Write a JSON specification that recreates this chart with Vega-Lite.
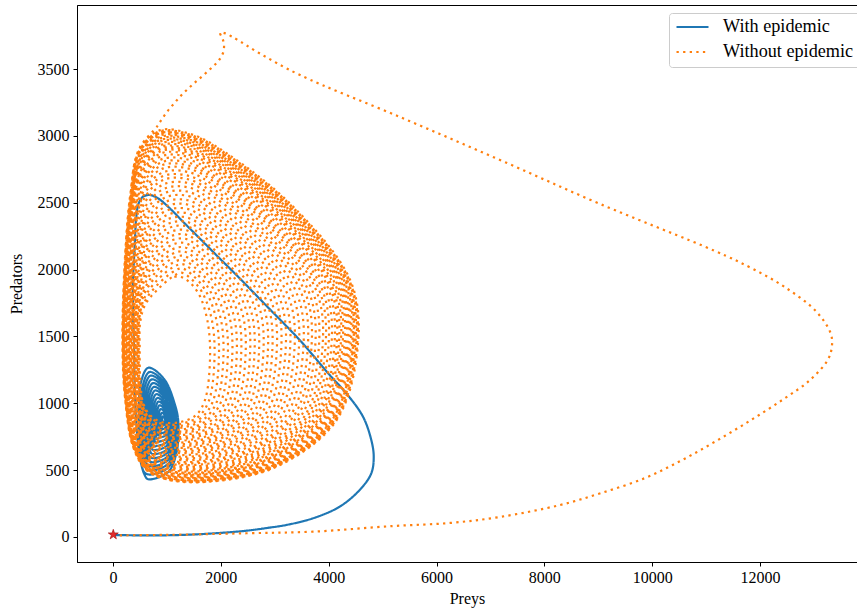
{
"$schema": "https://vega.github.io/schema/vega-lite/v6.json",
"width": 780, "height": 557,
"autosize": {"type": "none"},
"padding": {"left": 77, "top": 5, "right": 0, "bottom": 50},
"background": "white",
"config": {
 "view": {"stroke": "black", "strokeWidth": 1},
 "font": "Liberation Serif",
 "axis": {"domainColor": "black", "tickColor": "black", "labelColor": "black", "titleColor": "black", "labelFont": "Liberation Serif", "titleFont": "Liberation Serif", "labelFontSize": 16, "titleFontSize": 16, "titleFontWeight": "normal", "grid": false, "tickSize": 4, "tickWidth": 1, "domainWidth": 1},
 "axisX": {"labelPadding": 3, "titlePadding": 5},
 "axisY": {"labelPadding": 4, "titlePadding": 13},
 "legend": {"orient": "none", "legendX": 592, "legendY": 8, "padding": 6, "strokeColor": "#cccccc", "fillColor": "white", "cornerRadius": 3, "labelFont": "Liberation Serif", "labelFontSize": 18.2, "labelColor": "black", "symbolType": "stroke", "symbolSize": 1024, "symbolStrokeWidth": 2.2, "labelOffset": 13, "rowPadding": 6, "clipHeight": 16}
},
"datasets": {
"blue": [
{"s":"w","x":5,"y":15},{"s":"w","x":600,"y":12},{"s":"w","x":1237,"y":15},{"s":"w","x":1900,"y":28},{"s":"w","x":2472,"y":47},{"s":"w","x":2900,"y":70},{"s":"w","x":3214,"y":90},{"s":"w","x":3709,"y":140},{"s":"w","x":4204,"y":227},{"s":"w","x":4575,"y":352},{"s":"w","x":4790,"y":476},{"s":"w","x":4835,"y":601},{"s":"w","x":4790,"y":725},{"s":"w","x":4636,"y":900},{"s":"w","x":4326,"y":1075},{"s":"w","x":4018,"y":1212},{"s":"w","x":3462,"y":1473},{"s":"w","x":2875,"y":1717},{"s":"w","x":2287,"y":1960},{"s":"w","x":1947,"y":2096},{"s":"w","x":1638,"y":2221},{"s":"w","x":1328,"y":2346},{"s":"w","x":1020,"y":2471},{"s":"w","x":835,"y":2533},{"s":"w","x":680,"y":2558},{"s":"w","x":556,"y":2545},{"s":"w","x":476,"y":2496},{"s":"w","x":432,"y":2396},{"s":"w","x":402,"y":2171},{"s":"w","x":371,"y":1922},{"s":"w","x":371,"y":1673},{"s":"w","x":390,"y":1423},{"s":"w","x":399,"y":1174},{"s":"w","x":432,"y":851},{"s":"w","x":494,"y":601},{"s":"w","x":587,"y":464},
{"s":"w","x":650,"y":432},{"s":"w","x":1026,"y":488},{"s":"w","x":1180,"y":638},{"s":"w","x":1211,"y":862},{"s":"w","x":1150,"y":987},{"s":"w","x":950,"y":1180},{"s":"w","x":655,"y":1266},{"s":"w","x":520,"y":1160},{"s":"w","x":480,"y":900},{"s":"w","x":510,"y":660},{"s":"w","x":570,"y":490},
{"s":"w","x":674,"y":467},{"s":"w","x":1020,"y":519},{"s":"w","x":1162,"y":657},{"s":"w","x":1190,"y":863},{"s":"w","x":1134,"y":978},{"s":"w","x":950,"y":1155},{"s":"w","x":679,"y":1234},{"s":"w","x":554,"y":1137},{"s":"w","x":518,"y":898},{"s":"w","x":545,"y":677},{"s":"w","x":600,"y":520},
{"s":"w","x":695,"y":498},{"s":"w","x":1015,"y":545},{"s":"w","x":1146,"y":673},{"s":"w","x":1172,"y":863},{"s":"w","x":1120,"y":969},{"s":"w","x":950,"y":1134},{"s":"w","x":699,"y":1207},{"s":"w","x":584,"y":1117},{"s":"w","x":550,"y":896},{"s":"w","x":576,"y":691},{"s":"w","x":627,"y":547},
{"s":"w","x":716,"y":528},{"s":"w","x":1009,"y":572},{"s":"w","x":1129,"y":689},{"s":"w","x":1154,"y":864},{"s":"w","x":1106,"y":961},{"s":"w","x":950,"y":1112},{"s":"w","x":720,"y":1179},{"s":"w","x":615,"y":1096},{"s":"w","x":583,"y":893},{"s":"w","x":607,"y":706},{"s":"w","x":654,"y":574},
{"s":"w","x":737,"y":559},{"s":"w","x":1004,"y":599},{"s":"w","x":1113,"y":705},{"s":"w","x":1135,"y":864},{"s":"w","x":1092,"y":953},{"s":"w","x":950,"y":1090},{"s":"w","x":741,"y":1151},{"s":"w","x":645,"y":1076},{"s":"w","x":616,"y":891},{"s":"w","x":638,"y":721},{"s":"w","x":680,"y":600},
{"s":"w","x":758,"y":590},{"s":"w","x":999,"y":626},{"s":"w","x":1097,"y":722},{"s":"w","x":1117,"y":865},{"s":"w","x":1078,"y":945},{"s":"w","x":950,"y":1068},{"s":"w","x":761,"y":1123},{"s":"w","x":675,"y":1056},{"s":"w","x":649,"y":889},{"s":"w","x":668,"y":736},{"s":"w","x":707,"y":627},
{"s":"w","x":779,"y":620},{"s":"w","x":993,"y":652},{"s":"w","x":1081,"y":738},{"s":"w","x":1099,"y":865},{"s":"w","x":1064,"y":937},{"s":"w","x":950,"y":1047},{"s":"w","x":782,"y":1096},{"s":"w","x":705,"y":1035},{"s":"w","x":682,"y":887},{"s":"w","x":699,"y":750},{"s":"w","x":733,"y":653},
{"s":"w","x":800,"y":651},{"s":"w","x":988,"y":679},{"s":"w","x":1065,"y":754},{"s":"w","x":1081,"y":866},{"s":"w","x":1050,"y":929},{"s":"w","x":950,"y":1025},{"s":"w","x":802,"y":1068},{"s":"w","x":735,"y":1015},{"s":"w","x":715,"y":885},{"s":"w","x":730,"y":765},{"s":"w","x":760,"y":680},
{"s":"w","x":821,"y":682},{"s":"w","x":983,"y":706},{"s":"w","x":1049,"y":770},{"s":"w","x":1062,"y":867},{"s":"w","x":1036,"y":920},{"s":"w","x":950,"y":1003},{"s":"w","x":823,"y":1040},{"s":"w","x":765,"y":995},{"s":"w","x":748,"y":883},{"s":"w","x":761,"y":780},{"s":"w","x":787,"y":707},
{"s":"w","x":842,"y":712},{"s":"w","x":977,"y":732},{"s":"w","x":1033,"y":786},{"s":"w","x":1044,"y":867},{"s":"w","x":1022,"y":912},{"s":"w","x":950,"y":982},{"s":"w","x":844,"y":1013},{"s":"w","x":795,"y":974},{"s":"w","x":781,"y":881},{"s":"w","x":792,"y":794},{"s":"w","x":813,"y":733},
{"s":"w","x":863,"y":743},{"s":"w","x":972,"y":759},{"s":"w","x":1017,"y":803},{"s":"w","x":1026,"y":868},{"s":"w","x":1008,"y":904},{"s":"w","x":950,"y":960},{"s":"w","x":864,"y":985},{"s":"w","x":825,"y":954},{"s":"w","x":814,"y":879},{"s":"w","x":822,"y":809},{"s":"w","x":840,"y":760},
{"s":"w","x":884,"y":774},{"s":"w","x":967,"y":786},{"s":"w","x":1001,"y":819},{"s":"w","x":1007,"y":868},{"s":"w","x":994,"y":896},{"s":"w","x":950,"y":938},{"s":"w","x":885,"y":957},{"s":"w","x":855,"y":934},{"s":"w","x":847,"y":877},{"s":"w","x":853,"y":824},{"s":"w","x":866,"y":786},
{"s":"w","x":905,"y":804},{"s":"w","x":961,"y":813},{"s":"w","x":985,"y":835},{"s":"w","x":989,"y":869},{"s":"w","x":980,"y":888},{"s":"w","x":950,"y":917},{"s":"w","x":906,"y":929},{"s":"w","x":885,"y":914},{"s":"w","x":879,"y":875},{"s":"w","x":884,"y":838},{"s":"w","x":893,"y":813},
{"s":"w","x":926,"y":835},{"s":"w","x":956,"y":839},{"s":"w","x":968,"y":851},{"s":"w","x":971,"y":869},{"s":"w","x":966,"y":879},{"s":"w","x":950,"y":895},{"s":"w","x":926,"y":902},{"s":"w","x":916,"y":893},{"s":"w","x":912,"y":872},{"s":"w","x":915,"y":853},{"s":"w","x":920,"y":840},{"s":"w","x":950,"y":870}
],
"orange": [
{"s":"n","x":5,"y":12},{"s":"n","x":1000,"y":16},{"s":"n","x":2472,"y":28},{"s":"n","x":3709,"y":40},{"s":"n","x":5193,"y":82},{"s":"n","x":6250,"y":105},{"s":"n","x":7177,"y":150},{"s":"n","x":8290,"y":239},{"s":"n","x":9040,"y":327},{"s":"n","x":9866,"y":441},{"s":"n","x":10534,"y":571},{"s":"n","x":11165,"y":713},{"s":"n","x":11814,"y":870},{"s":"n","x":12431,"y":1030},{"s":"n","x":12927,"y":1174},{"s":"n","x":13255,"y":1324},{"s":"n","x":13329,"y":1416},{"s":"n","x":13316,"y":1516},{"s":"n","x":13051,"y":1683},{"s":"n","x":12463,"y":1868},{"s":"n","x":11845,"y":2010},{"s":"n","x":11165,"y":2139},{"s":"n","x":9032,"y":2491},{"s":"n","x":7177,"y":2820},{"s":"n","x":5323,"y":3141},{"s":"n","x":3468,"y":3455},{"s":"n","x":2708,"y":3620},{"s":"n","x":2294,"y":3722},{"s":"n","x":2183,"y":3747},{"s":"n","x":2083,"y":3767},{"s":"n","x":1984,"y":3772},{"s":"n","x":2034,"y":3725},{"s":"n","x":2059,"y":3678},{"s":"n","x":2046,"y":3628},{"s":"n","x":1997,"y":3585},{"s":"n","x":1923,"y":3547},{"s":"n","x":1830,"y":3510},{"s":"n","x":1738,"y":3476},{"s":"n","x":1645,"y":3443},{"s":"n","x":1552,"y":3411},{"s":"n","x":1460,"y":3378},{"s":"n","x":1367,"y":3343},{"s":"n","x":1285,"y":3311},{"s":"n","x":1200,"y":3274},{"s":"n","x":1118,"y":3236},{"s":"n","x":1039,"y":3199},{"s":"n","x":964,"y":3159},{"s":"n","x":896,"y":3119},{"s":"n","x":829,"y":3076},
{"s":"n","x":480,"y":2900},{"s":"n","x":315,"y":2545},{"s":"n","x":210,"y":2000},{"s":"n","x":175,"y":1450},{"s":"n","x":220,"y":1050},{"s":"n","x":371,"y":675},{"s":"n","x":618,"y":501},{"s":"n","x":1000,"y":430},{"s":"n","x":1800,"y":414},{"s":"n","x":3034,"y":526},{"s":"n","x":4149,"y":875},{"s":"n","x":4549,"y":1473},{"s":"n","x":4400,"y":1920},{"s":"n","x":3344,"y":2470},{"s":"n","x":2108,"y":2870},{"s":"n","x":1489,"y":3007},
{"s":"n","x":874,"y":3043},{"s":"n","x":482,"y":2894},{"s":"n","x":317,"y":2540},{"s":"n","x":212,"y":1998},{"s":"n","x":177,"y":1450},{"s":"n","x":222,"y":1051},{"s":"n","x":372,"y":677},{"s":"n","x":619,"y":504},{"s":"n","x":1000,"y":433},{"s":"n","x":1797,"y":417},{"s":"n","x":3025,"y":529},{"s":"n","x":4135,"y":876},{"s":"n","x":4533,"y":1473},{"s":"n","x":4384,"y":1918},{"s":"n","x":3334,"y":2466},{"s":"n","x":2104,"y":2864},{"s":"n","x":1488,"y":3001},
{"s":"n","x":875,"y":3036},{"s":"n","x":484,"y":2887},{"s":"n","x":318,"y":2535},{"s":"n","x":214,"y":1995},{"s":"n","x":179,"y":1449},{"s":"n","x":223,"y":1052},{"s":"n","x":373,"y":679},{"s":"n","x":619,"y":506},{"s":"n","x":999,"y":435},{"s":"n","x":1793,"y":419},{"s":"n","x":3016,"y":531},{"s":"n","x":4120,"y":877},{"s":"n","x":4516,"y":1472},{"s":"n","x":4368,"y":1916},{"s":"n","x":3323,"y":2462},{"s":"n","x":2100,"y":2858},{"s":"n","x":1486,"y":2994},
{"s":"n","x":877,"y":3029},{"s":"n","x":486,"y":2881},{"s":"n","x":320,"y":2530},{"s":"n","x":216,"y":1993},{"s":"n","x":181,"y":1449},{"s":"n","x":225,"y":1053},{"s":"n","x":375,"y":681},{"s":"n","x":620,"y":509},{"s":"n","x":999,"y":438},{"s":"n","x":1790,"y":422},{"s":"n","x":3007,"y":534},{"s":"n","x":4104,"y":878},{"s":"n","x":4498,"y":1471},{"s":"n","x":4351,"y":1915},{"s":"n","x":3312,"y":2458},{"s":"n","x":2096,"y":2852},{"s":"n","x":1485,"y":2987},
{"s":"n","x":878,"y":3021},{"s":"n","x":488,"y":2874},{"s":"n","x":322,"y":2525},{"s":"n","x":217,"y":1990},{"s":"n","x":183,"y":1449},{"s":"n","x":227,"y":1053},{"s":"n","x":376,"y":683},{"s":"n","x":620,"y":511},{"s":"n","x":998,"y":441},{"s":"n","x":1786,"y":425},{"s":"n","x":2997,"y":536},{"s":"n","x":4088,"y":879},{"s":"n","x":4480,"y":1470},{"s":"n","x":4334,"y":1913},{"s":"n","x":3300,"y":2454},{"s":"n","x":2091,"y":2846},{"s":"n","x":1483,"y":2980},
{"s":"n","x":880,"y":3013},{"s":"n","x":491,"y":2866},{"s":"n","x":324,"y":2519},{"s":"n","x":220,"y":1987},{"s":"n","x":186,"y":1449},{"s":"n","x":229,"y":1054},{"s":"n","x":378,"y":686},{"s":"n","x":621,"y":514},{"s":"n","x":998,"y":444},{"s":"n","x":1782,"y":429},{"s":"n","x":2986,"y":539},{"s":"n","x":4070,"y":880},{"s":"n","x":4460,"y":1469},{"s":"n","x":4314,"y":1911},{"s":"n","x":3287,"y":2449},{"s":"n","x":2086,"y":2839},{"s":"n","x":1482,"y":2972},
{"s":"n","x":881,"y":3005},{"s":"n","x":493,"y":2858},{"s":"n","x":326,"y":2513},{"s":"n","x":222,"y":1984},{"s":"n","x":188,"y":1448},{"s":"n","x":231,"y":1055},{"s":"n","x":379,"y":688},{"s":"n","x":621,"y":517},{"s":"n","x":997,"y":447},{"s":"n","x":1778,"y":432},{"s":"n","x":2974,"y":541},{"s":"n","x":4051,"y":881},{"s":"n","x":4439,"y":1468},{"s":"n","x":4294,"y":1908},{"s":"n","x":3274,"y":2444},{"s":"n","x":2080,"y":2831},{"s":"n","x":1480,"y":2964},
{"s":"n","x":884,"y":2994},{"s":"n","x":496,"y":2847},{"s":"n","x":329,"y":2505},{"s":"n","x":225,"y":1981},{"s":"n","x":191,"y":1448},{"s":"n","x":234,"y":1057},{"s":"n","x":381,"y":692},{"s":"n","x":622,"y":522},{"s":"n","x":996,"y":452},{"s":"n","x":1773,"y":437},{"s":"n","x":2959,"y":545},{"s":"n","x":4027,"y":883},{"s":"n","x":4412,"y":1467},{"s":"n","x":4268,"y":1905},{"s":"n","x":3257,"y":2437},{"s":"n","x":2074,"y":2822},{"s":"n","x":1478,"y":2954},
{"s":"n","x":886,"y":2983},{"s":"n","x":499,"y":2836},{"s":"n","x":332,"y":2497},{"s":"n","x":228,"y":1977},{"s":"n","x":194,"y":1447},{"s":"n","x":237,"y":1058},{"s":"n","x":382,"y":695},{"s":"n","x":622,"y":526},{"s":"n","x":995,"y":456},{"s":"n","x":1767,"y":441},{"s":"n","x":2944,"y":549},{"s":"n","x":4002,"y":884},{"s":"n","x":4384,"y":1466},{"s":"n","x":4241,"y":1902},{"s":"n","x":3239,"y":2430},{"s":"n","x":2067,"y":2812},{"s":"n","x":1475,"y":2943},
{"s":"n","x":888,"y":2972},{"s":"n","x":503,"y":2826},{"s":"n","x":335,"y":2489},{"s":"n","x":231,"y":1973},{"s":"n","x":198,"y":1447},{"s":"n","x":240,"y":1059},{"s":"n","x":384,"y":698},{"s":"n","x":623,"y":530},{"s":"n","x":995,"y":460},{"s":"n","x":1762,"y":446},{"s":"n","x":2930,"y":553},{"s":"n","x":3978,"y":886},{"s":"n","x":4357,"y":1465},{"s":"n","x":4215,"y":1899},{"s":"n","x":3222,"y":2424},{"s":"n","x":2060,"y":2803},{"s":"n","x":1473,"y":2933},
{"s":"n","x":890,"y":2961},{"s":"n","x":506,"y":2815},{"s":"n","x":338,"y":2481},{"s":"n","x":234,"y":1969},{"s":"n","x":201,"y":1446},{"s":"n","x":243,"y":1060},{"s":"n","x":386,"y":701},{"s":"n","x":624,"y":534},{"s":"n","x":994,"y":464},{"s":"n","x":1756,"y":450},{"s":"n","x":2915,"y":557},{"s":"n","x":3954,"y":887},{"s":"n","x":4329,"y":1463},{"s":"n","x":4188,"y":1896},{"s":"n","x":3205,"y":2417},{"s":"n","x":2053,"y":2793},{"s":"n","x":1471,"y":2922},
{"s":"n","x":893,"y":2947},{"s":"n","x":510,"y":2802},{"s":"n","x":342,"y":2471},{"s":"n","x":238,"y":1964},{"s":"n","x":205,"y":1446},{"s":"n","x":247,"y":1062},{"s":"n","x":389,"y":705},{"s":"n","x":625,"y":539},{"s":"n","x":993,"y":470},{"s":"n","x":1749,"y":456},{"s":"n","x":2896,"y":562},{"s":"n","x":3924,"y":889},{"s":"n","x":4295,"y":1462},{"s":"n","x":4155,"y":1893},{"s":"n","x":3183,"y":2409},{"s":"n","x":2045,"y":2781},{"s":"n","x":1468,"y":2909},
{"s":"n","x":896,"y":2933},{"s":"n","x":514,"y":2789},{"s":"n","x":345,"y":2461},{"s":"n","x":241,"y":1959},{"s":"n","x":209,"y":1445},{"s":"n","x":250,"y":1064},{"s":"n","x":391,"y":709},{"s":"n","x":626,"y":544},{"s":"n","x":992,"y":475},{"s":"n","x":1742,"y":461},{"s":"n","x":2877,"y":567},{"s":"n","x":3893,"y":891},{"s":"n","x":4260,"y":1460},{"s":"n","x":4122,"y":1889},{"s":"n","x":3161,"y":2401},{"s":"n","x":2036,"y":2769},{"s":"n","x":1465,"y":2896},
{"s":"n","x":899,"y":2920},{"s":"n","x":518,"y":2776},{"s":"n","x":349,"y":2451},{"s":"n","x":245,"y":1954},{"s":"n","x":213,"y":1445},{"s":"n","x":254,"y":1066},{"s":"n","x":394,"y":713},{"s":"n","x":627,"y":549},{"s":"n","x":991,"y":481},{"s":"n","x":1736,"y":467},{"s":"n","x":2859,"y":572},{"s":"n","x":3862,"y":893},{"s":"n","x":4226,"y":1459},{"s":"n","x":4089,"y":1885},{"s":"n","x":3139,"y":2393},{"s":"n","x":2028,"y":2757},{"s":"n","x":1462,"y":2883},
{"s":"n","x":902,"y":2906},{"s":"n","x":522,"y":2762},{"s":"n","x":352,"y":2440},{"s":"n","x":248,"y":1949},{"s":"n","x":217,"y":1444},{"s":"n","x":257,"y":1067},{"s":"n","x":396,"y":717},{"s":"n","x":627,"y":554},{"s":"n","x":990,"y":486},{"s":"n","x":1729,"y":472},{"s":"n","x":2840,"y":576},{"s":"n","x":3831,"y":895},{"s":"n","x":4192,"y":1457},{"s":"n","x":4056,"y":1881},{"s":"n","x":3117,"y":2384},{"s":"n","x":2019,"y":2745},{"s":"n","x":1459,"y":2869},
{"s":"n","x":905,"y":2889},{"s":"n","x":527,"y":2746},{"s":"n","x":357,"y":2428},{"s":"n","x":253,"y":1944},{"s":"n","x":222,"y":1443},{"s":"n","x":262,"y":1069},{"s":"n","x":399,"y":722},{"s":"n","x":629,"y":560},{"s":"n","x":989,"y":493},{"s":"n","x":1721,"y":479},{"s":"n","x":2818,"y":582},{"s":"n","x":3795,"y":897},{"s":"n","x":4151,"y":1455},{"s":"n","x":4016,"y":1877},{"s":"n","x":3091,"y":2374},{"s":"n","x":2009,"y":2731},{"s":"n","x":1456,"y":2853},
{"s":"n","x":908,"y":2872},{"s":"n","x":531,"y":2730},{"s":"n","x":361,"y":2416},{"s":"n","x":257,"y":1938},{"s":"n","x":226,"y":1442},{"s":"n","x":266,"y":1071},{"s":"n","x":401,"y":727},{"s":"n","x":630,"y":566},{"s":"n","x":987,"y":499},{"s":"n","x":1712,"y":485},{"s":"n","x":2795,"y":588},{"s":"n","x":3758,"y":899},{"s":"n","x":4109,"y":1453},{"s":"n","x":3976,"y":1872},{"s":"n","x":3065,"y":2364},{"s":"n","x":1998,"y":2716},{"s":"n","x":1452,"y":2837},
{"s":"n","x":913,"y":2850},{"s":"n","x":538,"y":2709},{"s":"n","x":367,"y":2400},{"s":"n","x":263,"y":1930},{"s":"n","x":233,"y":1441},{"s":"n","x":272,"y":1074},{"s":"n","x":405,"y":734},{"s":"n","x":631,"y":575},{"s":"n","x":986,"y":508},{"s":"n","x":1701,"y":494},{"s":"n","x":2765,"y":596},{"s":"n","x":3709,"y":902},{"s":"n","x":4054,"y":1451},{"s":"n","x":3923,"y":1866},{"s":"n","x":3030,"y":2351},{"s":"n","x":1984,"y":2697},{"s":"n","x":1448,"y":2816},
{"s":"n","x":918,"y":2828},{"s":"n","x":544,"y":2688},{"s":"n","x":372,"y":2384},{"s":"n","x":269,"y":1922},{"s":"n","x":239,"y":1440},{"s":"n","x":277,"y":1076},{"s":"n","x":409,"y":740},{"s":"n","x":632,"y":583},{"s":"n","x":984,"y":516},{"s":"n","x":1690,"y":503},{"s":"n","x":2735,"y":603},{"s":"n","x":3660,"y":905},{"s":"n","x":3999,"y":1448},{"s":"n","x":3870,"y":1860},{"s":"n","x":2995,"y":2338},{"s":"n","x":1970,"y":2677},{"s":"n","x":1443,"y":2795},
{"s":"n","x":923,"y":2806},{"s":"n","x":551,"y":2667},{"s":"n","x":378,"y":2368},{"s":"n","x":275,"y":1914},{"s":"n","x":246,"y":1439},{"s":"n","x":283,"y":1079},{"s":"n","x":413,"y":747},{"s":"n","x":634,"y":591},{"s":"n","x":983,"y":525},{"s":"n","x":1679,"y":512},{"s":"n","x":2705,"y":611},{"s":"n","x":3612,"y":908},{"s":"n","x":3944,"y":1446},{"s":"n","x":3817,"y":1854},{"s":"n","x":2960,"y":2325},{"s":"n","x":1957,"y":2658},{"s":"n","x":1439,"y":2774},
{"s":"n","x":927,"y":2784},{"s":"n","x":557,"y":2646},{"s":"n","x":383,"y":2352},{"s":"n","x":281,"y":1906},{"s":"n","x":252,"y":1438},{"s":"n","x":288,"y":1081},{"s":"n","x":416,"y":753},{"s":"n","x":635,"y":599},{"s":"n","x":981,"y":533},{"s":"n","x":1668,"y":521},{"s":"n","x":2675,"y":619},{"s":"n","x":3563,"y":911},{"s":"n","x":3889,"y":1444},{"s":"n","x":3764,"y":1848},{"s":"n","x":2925,"y":2312},{"s":"n","x":1943,"y":2638},{"s":"n","x":1434,"y":2752},
{"s":"n","x":933,"y":2757},{"s":"n","x":565,"y":2620},{"s":"n","x":391,"y":2332},{"s":"n","x":289,"y":1897},{"s":"n","x":260,"y":1437},{"s":"n","x":296,"y":1085},{"s":"n","x":421,"y":761},{"s":"n","x":637,"y":610},{"s":"n","x":979,"y":544},{"s":"n","x":1655,"y":532},{"s":"n","x":2638,"y":629},{"s":"n","x":3502,"y":915},{"s":"n","x":3821,"y":1441},{"s":"n","x":3698,"y":1841},{"s":"n","x":2882,"y":2296},{"s":"n","x":1926,"y":2614},{"s":"n","x":1429,"y":2726},
{"s":"n","x":938,"y":2729},{"s":"n","x":573,"y":2593},{"s":"n","x":398,"y":2312},{"s":"n","x":296,"y":1887},{"s":"n","x":268,"y":1436},{"s":"n","x":303,"y":1088},{"s":"n","x":426,"y":769},{"s":"n","x":639,"y":620},{"s":"n","x":977,"y":554},{"s":"n","x":1641,"y":543},{"s":"n","x":2601,"y":638},{"s":"n","x":3441,"y":919},{"s":"n","x":3752,"y":1437},{"s":"n","x":3632,"y":1833},{"s":"n","x":2838,"y":2279},{"s":"n","x":1909,"y":2590},{"s":"n","x":1423,"y":2699},
{"s":"n","x":944,"y":2702},{"s":"n","x":581,"y":2567},{"s":"n","x":405,"y":2292},{"s":"n","x":303,"y":1877},{"s":"n","x":276,"y":1435},{"s":"n","x":310,"y":1091},{"s":"n","x":431,"y":778},{"s":"n","x":641,"y":630},{"s":"n","x":975,"y":565},{"s":"n","x":1627,"y":555},{"s":"n","x":2564,"y":648},{"s":"n","x":3380,"y":923},{"s":"n","x":3683,"y":1434},{"s":"n","x":3566,"y":1826},{"s":"n","x":2795,"y":2263},{"s":"n","x":1892,"y":2566},{"s":"n","x":1417,"y":2673},
{"s":"n","x":950,"y":2674},{"s":"n","x":589,"y":2540},{"s":"n","x":412,"y":2271},{"s":"n","x":310,"y":1867},{"s":"n","x":284,"y":1433},{"s":"n","x":317,"y":1094},{"s":"n","x":435,"y":786},{"s":"n","x":643,"y":640},{"s":"n","x":973,"y":576},{"s":"n","x":1613,"y":566},{"s":"n","x":2526,"y":657},{"s":"n","x":3318,"y":926},{"s":"n","x":3614,"y":1431},{"s":"n","x":3499,"y":1818},{"s":"n","x":2751,"y":2246},{"s":"n","x":1874,"y":2542},{"s":"n","x":1411,"y":2646},
{"s":"n","x":957,"y":2641},{"s":"n","x":599,"y":2508},{"s":"n","x":421,"y":2247},{"s":"n","x":319,"y":1856},{"s":"n","x":294,"y":1432},{"s":"n","x":326,"y":1098},{"s":"n","x":441,"y":796},{"s":"n","x":645,"y":653},{"s":"n","x":971,"y":589},{"s":"n","x":1597,"y":579},{"s":"n","x":2481,"y":669},{"s":"n","x":3245,"y":931},{"s":"n","x":3532,"y":1428},{"s":"n","x":3420,"y":1809},{"s":"n","x":2699,"y":2226},{"s":"n","x":1854,"y":2513},{"s":"n","x":1404,"y":2614},
{"s":"n","x":963,"y":2607},{"s":"n","x":608,"y":2476},{"s":"n","x":429,"y":2223},{"s":"n","x":328,"y":1844},{"s":"n","x":303,"y":1430},{"s":"n","x":334,"y":1102},{"s":"n","x":447,"y":805},{"s":"n","x":647,"y":665},{"s":"n","x":968,"y":601},{"s":"n","x":1580,"y":592},{"s":"n","x":2436,"y":680},{"s":"n","x":3172,"y":935},{"s":"n","x":3449,"y":1424},{"s":"n","x":3340,"y":1800},{"s":"n","x":2646,"y":2206},{"s":"n","x":1833,"y":2484},{"s":"n","x":1397,"y":2582},
{"s":"n","x":970,"y":2574},{"s":"n","x":618,"y":2444},{"s":"n","x":438,"y":2199},{"s":"n","x":337,"y":1833},{"s":"n","x":313,"y":1429},{"s":"n","x":343,"y":1106},{"s":"n","x":453,"y":815},{"s":"n","x":649,"y":677},{"s":"n","x":966,"y":614},{"s":"n","x":1564,"y":606},{"s":"n","x":2392,"y":692},{"s":"n","x":3099,"y":940},{"s":"n","x":3367,"y":1420},{"s":"n","x":3261,"y":1791},{"s":"n","x":2594,"y":2186},{"s":"n","x":1813,"y":2455},{"s":"n","x":1391,"y":2551},
{"s":"n","x":977,"y":2541},{"s":"n","x":627,"y":2412},{"s":"n","x":446,"y":2175},{"s":"n","x":346,"y":1821},{"s":"n","x":322,"y":1427},{"s":"n","x":351,"y":1110},{"s":"n","x":458,"y":825},{"s":"n","x":651,"y":689},{"s":"n","x":963,"y":627},{"s":"n","x":1547,"y":619},{"s":"n","x":2347,"y":704},{"s":"n","x":3025,"y":944},{"s":"n","x":3285,"y":1416},{"s":"n","x":3181,"y":1782},{"s":"n","x":2542,"y":2166},{"s":"n","x":1792,"y":2426},{"s":"n","x":1384,"y":2519},
{"s":"n","x":984,"y":2508},{"s":"n","x":637,"y":2381},{"s":"n","x":455,"y":2151},{"s":"n","x":355,"y":1809},{"s":"n","x":332,"y":1426},{"s":"n","x":360,"y":1114},{"s":"n","x":464,"y":835},{"s":"n","x":653,"y":702},{"s":"n","x":961,"y":640},{"s":"n","x":1531,"y":633},{"s":"n","x":2302,"y":716},{"s":"n","x":2952,"y":949},{"s":"n","x":3203,"y":1413},{"s":"n","x":3102,"y":1773},{"s":"n","x":2490,"y":2147},{"s":"n","x":1771,"y":2397},{"s":"n","x":1377,"y":2487},
{"s":"n","x":991,"y":2475},{"s":"n","x":646,"y":2349},{"s":"n","x":463,"y":2126},{"s":"n","x":363,"y":1797},{"s":"n","x":341,"y":1424},{"s":"n","x":368,"y":1118},{"s":"n","x":469,"y":844},{"s":"n","x":655,"y":714},{"s":"n","x":958,"y":653},{"s":"n","x":1514,"y":646},{"s":"n","x":2257,"y":727},{"s":"n","x":2879,"y":953},{"s":"n","x":3120,"y":1409},{"s":"n","x":3022,"y":1764},{"s":"n","x":2437,"y":2127},{"s":"n","x":1750,"y":2368},{"s":"n","x":1370,"y":2455},
{"s":"n","x":998,"y":2442},{"s":"n","x":656,"y":2317},{"s":"n","x":472,"y":2102},{"s":"n","x":372,"y":1786},{"s":"n","x":351,"y":1423},{"s":"n","x":377,"y":1122},{"s":"n","x":475,"y":854},{"s":"n","x":658,"y":726},{"s":"n","x":956,"y":666},{"s":"n","x":1498,"y":660},{"s":"n","x":2213,"y":739},{"s":"n","x":2806,"y":958},{"s":"n","x":3038,"y":1406},{"s":"n","x":2943,"y":1755},{"s":"n","x":2385,"y":2107},{"s":"n","x":1730,"y":2339},{"s":"n","x":1363,"y":2423},
{"s":"n","x":1004,"y":2409},{"s":"n","x":666,"y":2285},{"s":"n","x":480,"y":2078},{"s":"n","x":381,"y":1774},{"s":"n","x":361,"y":1421},{"s":"n","x":385,"y":1125},{"s":"n","x":481,"y":864},{"s":"n","x":660,"y":738},{"s":"n","x":954,"y":678},{"s":"n","x":1481,"y":673},{"s":"n","x":2168,"y":750},{"s":"n","x":2732,"y":962},{"s":"n","x":2955,"y":1402},{"s":"n","x":2863,"y":1746},{"s":"n","x":2333,"y":2087},{"s":"n","x":1709,"y":2310},{"s":"n","x":1356,"y":2391},
{"s":"n","x":1011,"y":2376},{"s":"n","x":676,"y":2254},{"s":"n","x":489,"y":2054},{"s":"n","x":390,"y":1762},{"s":"n","x":371,"y":1420},{"s":"n","x":394,"y":1129},{"s":"n","x":487,"y":874},{"s":"n","x":662,"y":751},{"s":"n","x":952,"y":691},{"s":"n","x":1465,"y":686},{"s":"n","x":2123,"y":762},{"s":"n","x":2659,"y":967},{"s":"n","x":2873,"y":1398},{"s":"n","x":2784,"y":1737},{"s":"n","x":2281,"y":2068},{"s":"n","x":1689,"y":2281},{"s":"n","x":1349,"y":2359},
{"s":"n","x":1018,"y":2342},{"s":"n","x":685,"y":2222},{"s":"n","x":497,"y":2030},{"s":"n","x":399,"y":1750},{"s":"n","x":380,"y":1418},{"s":"n","x":402,"y":1133},{"s":"n","x":492,"y":883},{"s":"n","x":664,"y":763},{"s":"n","x":949,"y":704},{"s":"n","x":1448,"y":699},{"s":"n","x":2078,"y":773},{"s":"n","x":2586,"y":971},{"s":"n","x":2790,"y":1394},{"s":"n","x":2704,"y":1728},{"s":"n","x":2228,"y":2048},{"s":"n","x":1668,"y":2252},{"s":"n","x":1342,"y":2327},
{"s":"n","x":1025,"y":2309},{"s":"n","x":695,"y":2190},{"s":"n","x":506,"y":2006},{"s":"n","x":408,"y":1739},{"s":"n","x":390,"y":1417},{"s":"n","x":411,"y":1137},{"s":"n","x":498,"y":893},{"s":"n","x":666,"y":775},{"s":"n","x":947,"y":717},{"s":"n","x":1432,"y":713},{"s":"n","x":2033,"y":785},{"s":"n","x":2513,"y":976},{"s":"n","x":2708,"y":1391},{"s":"n","x":2625,"y":1719},{"s":"n","x":2176,"y":2028},{"s":"n","x":1647,"y":2224},{"s":"n","x":1336,"y":2296},
{"s":"n","x":1032,"y":2276},{"s":"n","x":704,"y":2158},{"s":"n","x":515,"y":1982},{"s":"n","x":417,"y":1727},{"s":"n","x":399,"y":1415},{"s":"n","x":420,"y":1141},{"s":"n","x":503,"y":903},{"s":"n","x":668,"y":787},{"s":"n","x":944,"y":730},{"s":"n","x":1415,"y":726},{"s":"n","x":1988,"y":796},{"s":"n","x":2439,"y":980},{"s":"n","x":2625,"y":1387},{"s":"n","x":2545,"y":1710},{"s":"n","x":2123,"y":2008},{"s":"n","x":1626,"y":2195},{"s":"n","x":1329,"y":2264},
{"s":"n","x":1039,"y":2243},{"s":"n","x":714,"y":2126},{"s":"n","x":524,"y":1958},{"s":"n","x":426,"y":1716},{"s":"n","x":409,"y":1414},{"s":"n","x":429,"y":1145},{"s":"n","x":509,"y":913},{"s":"n","x":671,"y":800},{"s":"n","x":942,"y":743},{"s":"n","x":1399,"y":740},{"s":"n","x":1944,"y":808},{"s":"n","x":2366,"y":985},{"s":"n","x":2543,"y":1384},{"s":"n","x":2466,"y":1701},{"s":"n","x":2071,"y":1988},{"s":"n","x":1606,"y":2166},{"s":"n","x":1322,"y":2232},
{"s":"n","x":1045,"y":2210},{"s":"n","x":723,"y":2094},{"s":"n","x":532,"y":1933},{"s":"n","x":434,"y":1704},{"s":"n","x":418,"y":1412},{"s":"n","x":437,"y":1149},{"s":"n","x":515,"y":922},{"s":"n","x":673,"y":812},{"s":"n","x":939,"y":755},{"s":"n","x":1382,"y":753},{"s":"n","x":1899,"y":819},{"s":"n","x":2292,"y":989},{"s":"n","x":2460,"y":1380},{"s":"n","x":2386,"y":1692},{"s":"n","x":2019,"y":1968},{"s":"n","x":1585,"y":2137},{"s":"n","x":1315,"y":2200},
{"s":"n","x":1052,"y":2177},{"s":"n","x":733,"y":2063},{"s":"n","x":541,"y":1909},{"s":"n","x":443,"y":1692},{"s":"n","x":428,"y":1411},{"s":"n","x":446,"y":1153},{"s":"n","x":521,"y":932},{"s":"n","x":675,"y":824},{"s":"n","x":937,"y":768},{"s":"n","x":1366,"y":767},{"s":"n","x":1854,"y":831},{"s":"n","x":2219,"y":994},{"s":"n","x":2378,"y":1376},{"s":"n","x":2307,"y":1683},{"s":"n","x":1967,"y":1949},{"s":"n","x":1565,"y":2108},{"s":"n","x":1308,"y":2168},
{"s":"n","x":1059,"y":2144},{"s":"n","x":742,"y":2031},{"s":"n","x":549,"y":1885},{"s":"n","x":452,"y":1680},{"s":"n","x":437,"y":1409},{"s":"n","x":454,"y":1157},{"s":"n","x":526,"y":942},{"s":"n","x":677,"y":836},{"s":"n","x":934,"y":781},{"s":"n","x":1349,"y":780},{"s":"n","x":1809,"y":843},{"s":"n","x":2146,"y":998},{"s":"n","x":2295,"y":1372},{"s":"n","x":2227,"y":1674},{"s":"n","x":1914,"y":1929},{"s":"n","x":1544,"y":2079},{"s":"n","x":1301,"y":2136},
{"s":"n","x":1066,"y":2111},{"s":"n","x":752,"y":1999},{"s":"n","x":558,"y":1861},{"s":"n","x":461,"y":1669},{"s":"n","x":447,"y":1408},{"s":"n","x":463,"y":1161},{"s":"n","x":532,"y":952},{"s":"n","x":679,"y":849},{"s":"n","x":932,"y":794},{"s":"n","x":1333,"y":794},{"s":"n","x":1764,"y":855},{"s":"n","x":2073,"y":1003},{"s":"n","x":2213,"y":1369},{"s":"n","x":2148,"y":1665},{"s":"n","x":1862,"y":1909},{"s":"n","x":1524,"y":2050},{"s":"n","x":1295,"y":2104},
{"s":"n","x":1073,"y":2078},{"s":"n","x":762,"y":1967},{"s":"n","x":566,"y":1837},{"s":"n","x":470,"y":1657},{"s":"n","x":457,"y":1406},{"s":"n","x":471,"y":1164},{"s":"n","x":537,"y":961},{"s":"n","x":681,"y":861},{"s":"n","x":930,"y":807},{"s":"n","x":1316,"y":807},{"s":"n","x":1719,"y":866},{"s":"n","x":1999,"y":1007},{"s":"n","x":2130,"y":1365},{"s":"n","x":2068,"y":1656},{"s":"n","x":1809,"y":1889},{"s":"n","x":1503,"y":2021},{"s":"n","x":1288,"y":2072},
{"s":"n","x":1080,"y":2045},{"s":"n","x":772,"y":1936},{"s":"n","x":575,"y":1813},{"s":"n","x":479,"y":1645},{"s":"n","x":467,"y":1405},{"s":"n","x":480,"y":1168},{"s":"n","x":543,"y":971},{"s":"n","x":684,"y":874},{"s":"n","x":928,"y":820},{"s":"n","x":1300,"y":820},{"s":"n","x":1675,"y":878},{"s":"n","x":1926,"y":1012},{"s":"n","x":2048,"y":1361},{"s":"n","x":1989,"y":1647},{"s":"n","x":1757,"y":1870},{"s":"n","x":1482,"y":1992},{"s":"n","x":1281,"y":2041},
{"s":"n","x":1086,"y":2011},{"s":"n","x":781,"y":1904},{"s":"n","x":583,"y":1788},{"s":"n","x":487,"y":1633},{"s":"n","x":476,"y":1403},{"s":"n","x":488,"y":1172},{"s":"n","x":549,"y":981},{"s":"n","x":686,"y":886},{"s":"n","x":925,"y":832},{"s":"n","x":1283,"y":833},{"s":"n","x":1630,"y":889},{"s":"n","x":1853,"y":1016},{"s":"n","x":1965,"y":1357},{"s":"n","x":1909,"y":1638},{"s":"n","x":1705,"y":1850},{"s":"n","x":1461,"y":1963},{"s":"n","x":1274,"y":2009},
{"s":"n","x":1093,"y":1978},{"s":"n","x":791,"y":1872},{"s":"n","x":592,"y":1764},{"s":"n","x":496,"y":1622},{"s":"n","x":486,"y":1402},{"s":"n","x":497,"y":1176},{"s":"n","x":555,"y":991},{"s":"n","x":688,"y":898},{"s":"n","x":923,"y":845},{"s":"n","x":1267,"y":847},{"s":"n","x":1585,"y":901},{"s":"n","x":1780,"y":1021},{"s":"n","x":1883,"y":1354},{"s":"n","x":1830,"y":1629},{"s":"n","x":1653,"y":1830},{"s":"n","x":1441,"y":1934},{"s":"n","x":1267,"y":1977},
{"s":"n","x":1100,"y":1945},{"s":"n","x":800,"y":1840},{"s":"n","x":600,"y":1740},{"s":"n","x":505,"y":1610},{"s":"n","x":495,"y":1400},{"s":"n","x":505,"y":1180},{"s":"n","x":560,"y":1000},{"s":"n","x":690,"y":910},{"s":"n","x":920,"y":858},{"s":"n","x":1250,"y":860},{"s":"n","x":1540,"y":912},{"s":"n","x":1706,"y":1025},{"s":"n","x":1800,"y":1350},{"s":"n","x":1750,"y":1620},{"s":"n","x":1600,"y":1810},{"s":"n","x":1420,"y":1905},{"s":"n","x":1260,"y":1945},{"s":"n","x":1100,"y":1945}
],
"star": [{"x": 5, "y": 18}]
},
"layer": [
{"data": {"name": "blue"},
 "mark": {"type": "line", "interpolate": "catmull-rom", "strokeWidth": 2.2},
 "encoding": {
  "x": {"field": "x", "type": "quantitative", "scale": {"domain": [-668, 13798], "nice": false, "zero": false}, "axis": {"title": "Preys", "values": [0,2000,4000,6000,8000,10000,12000], "format": "d"}},
  "y": {"field": "y", "type": "quantitative", "scale": {"domain": [-187, 3979], "nice": false, "zero": false}, "axis": {"title": "Predators", "values": [0,500,1000,1500,2000,2500,3000,3500], "format": "d"}},
  "color": {"field": "s", "type": "nominal", "scale": {"domain": ["w","n"], "range": ["#1f77b4","#ff7f0e"]}, "legend": {"title": null, "labelExpr": "datum.value == 'w' ? 'With epidemic' : 'Without epidemic'"}},
  "strokeDash": {"field": "s", "type": "nominal", "scale": {"domain": ["w","n"], "range": [[1,0],[2.3,4.3]]}, "legend": {"title": null, "labelExpr": "datum.value == 'w' ? 'With epidemic' : 'Without epidemic'"}},
  "order": {"value": null}
 }},
{"data": {"name": "orange"},
 "mark": {"type": "line", "interpolate": "catmull-rom", "strokeWidth": 2.2},
 "encoding": {
  "x": {"field": "x", "type": "quantitative"},
  "y": {"field": "y", "type": "quantitative"},
  "color": {"field": "s", "type": "nominal"},
  "strokeDash": {"field": "s", "type": "nominal"},
  "order": {"value": null}
 }},
{"data": {"name": "star"},
 "mark": {"type": "point", "shape": "M0,-1L0.2245,-0.309L0.9511,-0.309L0.3633,0.118L0.5878,0.809L0,0.382L-0.5878,0.809L-0.3633,0.118L-0.9511,-0.309L-0.2245,-0.309Z", "filled": true, "fill": "#e32b2b", "stroke": "#a31515", "strokeWidth": 0.7, "size": 110, "opacity": 1},
 "encoding": {
  "x": {"field": "x", "type": "quantitative"},
  "y": {"field": "y", "type": "quantitative"}
 }}
]
}
